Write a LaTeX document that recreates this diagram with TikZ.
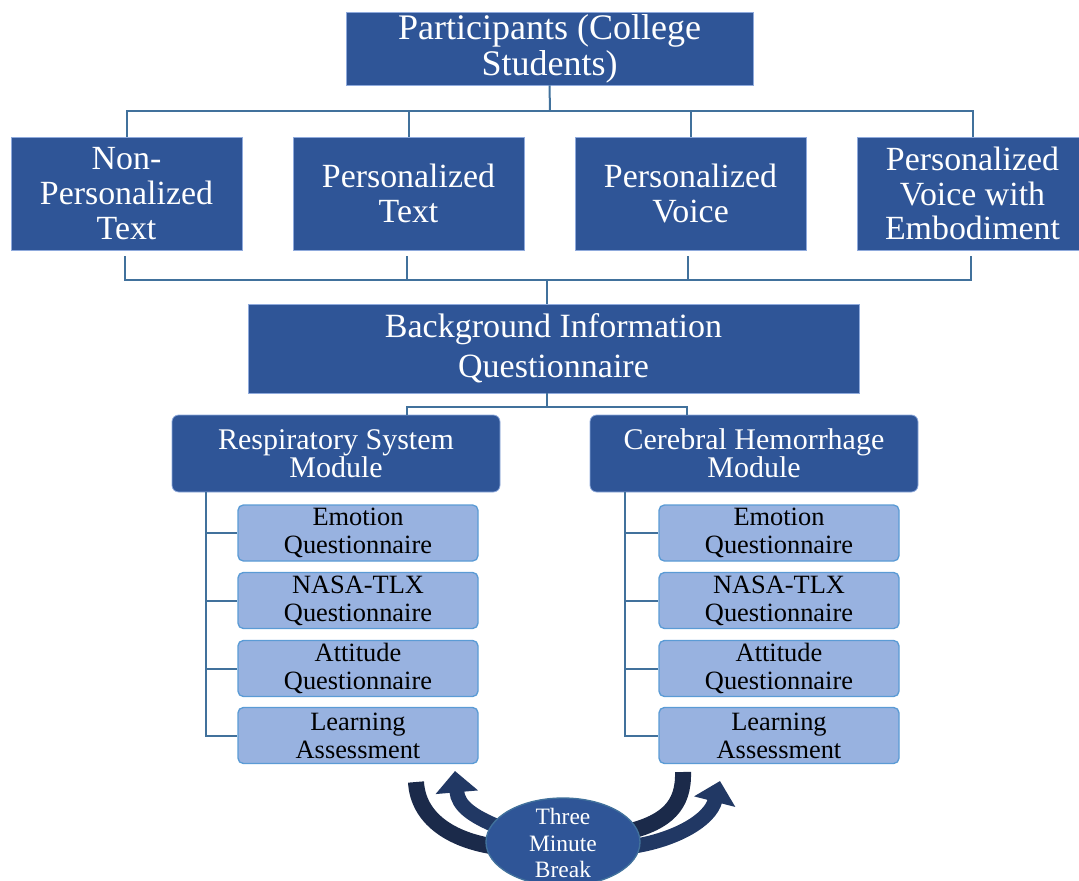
\documentclass[tikz,border=0pt]{standalone}
\usepackage{fontspec}
\setmainfont{Liberation Serif}
\usetikzlibrary{calc,shapes.geometric,arrows.meta,backgrounds}

\definecolor{boxblue}{RGB}{47,85,151}
\definecolor{boxedge}{RGB}{143,170,220}
\definecolor{linkblue}{RGB}{65,113,156}
\definecolor{subfill}{RGB}{152,178,224}
\definecolor{subedge}{RGB}{91,155,213}
\definecolor{banddark}{RGB}{27,42,74}
\definecolor{bandnavy}{RGB}{33,56,100}

\tikzset{
  bluebox/.style={draw=boxedge, line width=0.6pt, fill=boxblue, text=white, align=center, inner sep=0pt},
  groupbox/.style={bluebox, minimum width=173.25pt, minimum height=84.75pt, font=\fontsize{25.4}{26}\selectfont},
  modbox/.style={bluebox, rounded corners=5pt, minimum width=246pt, minimum height=57.75pt, font=\fontsize{22.5}{21}\selectfont},
  subbox/.style={draw=subedge, line width=1pt, fill=subfill, rounded corners=4pt, align=center, inner sep=0pt, minimum width=180pt, minimum height=42pt, font=\fontsize{19.8}{21}\selectfont},
  link/.style={draw=linkblue, line width=1.5pt},
  band/.style={draw=banddark, line width=12pt},
  bandtip/.style={draw=bandnavy, line width=11pt, -{Triangle[width=31pt,length=16pt]}}
}

\begin{document}
\begin{tikzpicture}[x=0.75pt,y=0.75pt,yscale=-1,xscale=1]
\useasboundingbox (0,0) rectangle (1079,881);

%Shape: Rectangle [participants]
\node [bluebox, minimum width=305.25pt, minimum height=54.75pt, font=\fontsize{27}{27}\selectfont] (part) at (549.5,48.5) {Participants (College\\Students)};

%Shape: Rectangle [groups]
\node [groupbox] (npt) at (126.5,193.5) {Non-\\Personalized\\Text};
\node [groupbox] (pt) at (408.5,193.5) {Personalized\\Text};
\node [groupbox] (pv) at (690.5,193.5) {Personalized\\Voice};
\node [groupbox] (pve) at (972.5,193.5) {Personalized\\Voice with\\Embodiment};

%Shape: Rectangle [background questionnaire]
\node [bluebox, minimum width=458.25pt, minimum height=66.75pt, font=\fontsize{25.5}{30}\selectfont] (bg) at (553.5,348.5) {Background Information\\Questionnaire};

%Shape: Rounded Rectangle [modules]
\node [modbox] (rsm) at (336,453.5) {Respiratory System\\Module};
\node [modbox] (chm) at (754,453.5) {Cerebral Hemorrhage\\Module};

%Shape: Rounded Rectangle [respiratory steps]
\node [subbox] (rs1) at (358,533) {Emotion\\Questionnaire};
\node [subbox] (rs2) at (358,600.5) {NASA-TLX\\Questionnaire};
\node [subbox] (rs3) at (358,668.5) {Attitude\\Questionnaire};
\node [subbox] (rs4) at (358,735.5) {Learning\\Assessment};

%Shape: Rounded Rectangle [cerebral steps]
\node [subbox] (ch1) at (779,533) {Emotion\\Questionnaire};
\node [subbox] (ch2) at (779,600.5) {NASA-TLX\\Questionnaire};
\node [subbox] (ch3) at (779,668.5) {Attitude\\Questionnaire};
\node [subbox] (ch4) at (779,735.5) {Learning\\Assessment};

%Shape: Ellipse [break]
\node [ellipse, draw=linkblue, line width=1pt, fill=boxblue, minimum width=115.5pt, minimum height=66pt, inner sep=0pt] (brk) at (563,842) {};
% Text Node
\node [text=white, align=center, inner sep=0pt, font=\fontsize{17.6}{20}\selectfont] (brktxt) at (563,843) {Three\\Minute\\Break};

\coordinate (topbus) at (550,111);
\coordinate (botbus) at (547,280);
\coordinate (midbus) at (547,407);

%Straight Lines [participants to groups]
\draw [link] (part.south) -- (topbus);
\draw [link] (topbus) -| (npt.north);
\draw [link] (topbus) -| (pt.north);
\draw [link] (topbus) -| (pv.north);
\draw [link] (topbus) -| (pve.north);

%Straight Lines [groups to background]
\draw [link] ($(npt.south)+(-2,6)$) |- (botbus);
\draw [link] ($(pt.south)+(-2,6)$) |- (botbus);
\draw [link] ($(pv.south)+(-3,6)$) |- (botbus);
\draw [link] ($(pve.south)+(-2,6)$) |- (botbus);
\draw [link] (botbus) -- (botbus |- bg.north);

%Straight Lines [background to modules]
\draw [link] (midbus |- bg.south) -- (midbus);
\draw [link] (midbus) -| ($(rsm.north)+(71,0)$);
\draw [link] (midbus) -| ($(chm.north)+(-67,0)$);

%Straight Lines [module steps]
\draw [link] ($(rsm.south west)+(34,0)$) |- (rs1.west);
\draw [link] ($(rsm.south west)+(34,0)$) |- (rs2.west);
\draw [link] ($(rsm.south west)+(34,0)$) |- (rs3.west);
\draw [link] ($(rsm.south west)+(34,0)$) |- (rs4.west);
\draw [link] ($(chm.south west)+(35,0)$) |- (ch1.west);
\draw [link] ($(chm.south west)+(35,0)$) |- (ch2.west);
\draw [link] ($(chm.south west)+(35,0)$) |- (ch3.west);
\draw [link] ($(chm.south west)+(35,0)$) |- (ch4.west);

\coordinate (lout) at (416,782);
\coordinate (lhead) at (455,771);
\coordinate (rout) at (683,772);
\coordinate (rhead) at (720,781);

%Curve Lines [break arrows]
\begin{scope}[on background layer]
\draw [band] (lout) .. controls (418,818) and (450,840) .. ($(brk.184)!0.12!(brk.center)$);
\draw [bandtip] ($(brk.167)!0.12!(brk.center)$) .. controls (472,816) and (458,806) .. (lhead);
\draw [band] (rout) .. controls (684,806) and (666,822) .. ($(brk.9)!0.12!(brk.center)$);
\draw [bandtip] ($(brk.-4)!0.12!(brk.center)$) .. controls (676,840) and (710,820) .. (rhead);
\end{scope}

\end{tikzpicture}
\end{document}
